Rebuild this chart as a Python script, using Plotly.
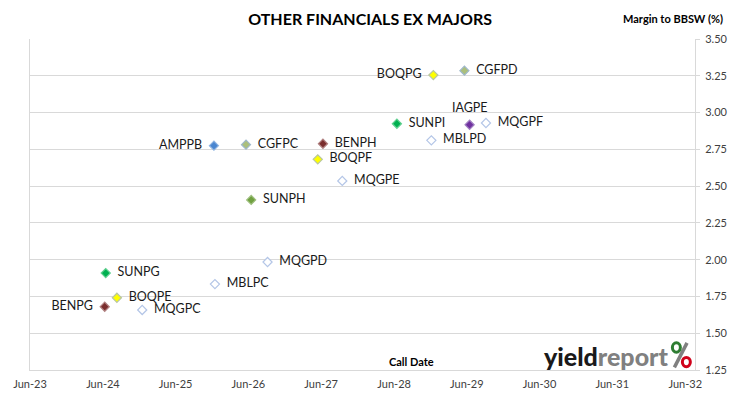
import plotly.graph_objects as go

# ---- data ----
codes = ["BOQPG", "CGFPD", "SUNPI", "IAGPE", "MQGPF", "MBLPD", "AMPPB", "CGFPC", "BENPH",
         "BOQPF", "MQGPE", "SUNPH", "MQGPD", "SUNPG", "MBLPC", "BOQPE", "BENPG", "MQGPC"]
call_dates = ["2028-12-15", "2029-05-20", "2028-06-15", "2029-06-15", "2029-09-05", "2028-12-05",
              "2025-12-10", "2026-05-20", "2027-06-10", "2027-05-15", "2027-09-15", "2026-06-15",
              "2026-09-05", "2024-06-15", "2025-12-15", "2024-08-10", "2024-06-10", "2024-12-15"]
margins = [3.255, 3.285, 2.924, 2.917, 2.929, 2.811, 2.775, 2.782, 2.788,
           2.682, 2.535, 2.406, 1.984, 1.909, 1.834, 1.741, 1.680, 1.658]
x_tick_dates = ["2023-06-01", "2024-06-01", "2025-06-01", "2026-06-01", "2027-06-01",
                "2028-06-01", "2029-06-01", "2030-06-01", "2031-06-01", "2032-06-01"]
x_tick_labels = ["Jun-23", "Jun-24", "Jun-25", "Jun-26", "Jun-27",
                 "Jun-28", "Jun-29", "Jun-30", "Jun-31", "Jun-32"]
y_ticks = [1.25, 1.50, 1.75, 2.00, 2.25, 2.50, 2.75, 3.00, 3.25, 3.50]

# ---- styles ----
styles = {
    "AMPP": dict(color="#4A86D0", line="#8FB3E0"),
    "CGFP": dict(color="#ABBF7C", line="#9FB8CC"),
    "BENP": dict(color="#7A2E2E", line="#B08080"),
    "BOQP": dict(color="#FFFF00", line="#B9C7A0"),
    "MQGP": dict(color="#FFFFFF", line="#B4C6E7"),
    "MBLP": dict(color="#FFFFFF", line="#B4C6E7"),
    "SUNPI": dict(color="#00B050", line="#60D090"),
    "SUNPG": dict(color="#00B050", line="#60D090"),
    "SUNPH": dict(color="#70A040", line="#A0C080"),
    "IAGP": dict(color="#7030A0", line="#A080C0"),
}
left_labels = {"AMPPB", "BENPG", "BOQPG"}
top_labels = {"IAGPE"}

def style_for(code):
    if code in styles:
        return styles[code]
    return styles[code[:4]]

FONT = "Lato"
LABEL_FONT = dict(family=FONT, size=12.5, color="#1a1a1a")
fig = go.Figure()
for code, d, m in zip(codes, call_dates, margins):
    st = style_for(code)
    if code in top_labels:
        mode, pos, txt = "markers", None, None
        fig.add_annotation(x=d, y=m, text=code, showarrow=False, yshift=17,
                           xanchor="center", yanchor="middle", font=LABEL_FONT)
    elif code in left_labels:
        mode, pos, txt = "markers+text", "middle left", code + "  "
    else:
        mode, pos, txt = "markers+text", "middle right", "  " + code
    fig.add_trace(go.Scatter(
        x=[d], y=[m], mode=mode, text=[txt] if txt else None, textposition=pos,
        textfont=LABEL_FONT,
        marker=dict(symbol="diamond", size=7, color=st["color"],
                    line=dict(color=st["line"], width=1.2)),
        showlegend=False, cliponaxis=False, hoverinfo="skip"))

fig.update_layout(
    width=730, height=399,
    margin=dict(l=30, r=35, t=39, b=29),
    paper_bgcolor="white", plot_bgcolor="white",
    font=dict(family=FONT, size=11, color="#404040"),
    title=dict(text="<b>OTHER FINANCIALS EX MAJORS</b>", x=0.507, xanchor="center",
               y=0.952, yanchor="middle", font=dict(family=FONT, size=16, color="#000000")),
    xaxis=dict(type="date", range=["2023-06-01", "2032-07-20"], automargin=False,
               tickvals=x_tick_dates, ticktext=x_tick_labels, ticklabelstandoff=4,
               showgrid=False, zeroline=False, showline=True, linecolor="#D9D9D9", linewidth=1,
               ticks="", tickfont=dict(family=FONT, size=11, color="#404040")),
    yaxis=dict(range=[1.25, 3.5], side="right", tickvals=y_ticks, tickformat=".2f",
               automargin=False, ticklabelstandoff=3,
               showgrid=True, gridcolor="#D9D9D9", gridwidth=1, zeroline=False,
               showline=True, mirror=True, linecolor="#D9D9D9", linewidth=1,
               ticks="outside", ticklen=4, tickcolor="#D9D9D9",
               tickfont=dict(family=FONT, size=11, color="#404040")),
)

fig.add_annotation(text="<b>Margin to BBSW (%)</b>", xref="paper", yref="paper",
                   x=1.045, y=1.0, xanchor="right", yanchor="bottom", yshift=12,
                   showarrow=False, font=dict(family=FONT, size=11, color="#000000"))
fig.add_annotation(text="<b>Call Date</b>", xref="paper", yref="paper",
                   x=0.573, y=0.0, xanchor="center", yanchor="bottom", yshift=0,
                   showarrow=False, font=dict(family=FONT, size=11, color="#000000"))
# logo
fig.add_annotation(text="<span style='color:#1a1a1a'>yield</span><span style='color:#808080'>report</span>",
                   xref="paper", yref="paper", x=0.963, y=0.0, xanchor="right", yanchor="bottom",
                   yshift=-3, showarrow=False, font=dict(family=FONT, size=25, weight=900))
# percent sign of the logo
fig.add_shape(type="line", xref="paper", yref="paper", x0=0.969, y0=0.008, x1=0.988, y1=0.082,
              line=dict(color="#808080", width=3.5))
fig.add_shape(type="circle", xref="paper", yref="paper", x0=0.966, y0=0.054, x1=0.978, y1=0.082,
              line=dict(color="#2E7D32", width=3))
fig.add_shape(type="circle", xref="paper", yref="paper", x0=0.981, y0=0.010, x1=0.993, y1=0.038,
              line=dict(color="#D0021B", width=3))

fig.write_html("out.html", config={"displayModeBar": False},
               post_script="document.body.style.margin='0';")
